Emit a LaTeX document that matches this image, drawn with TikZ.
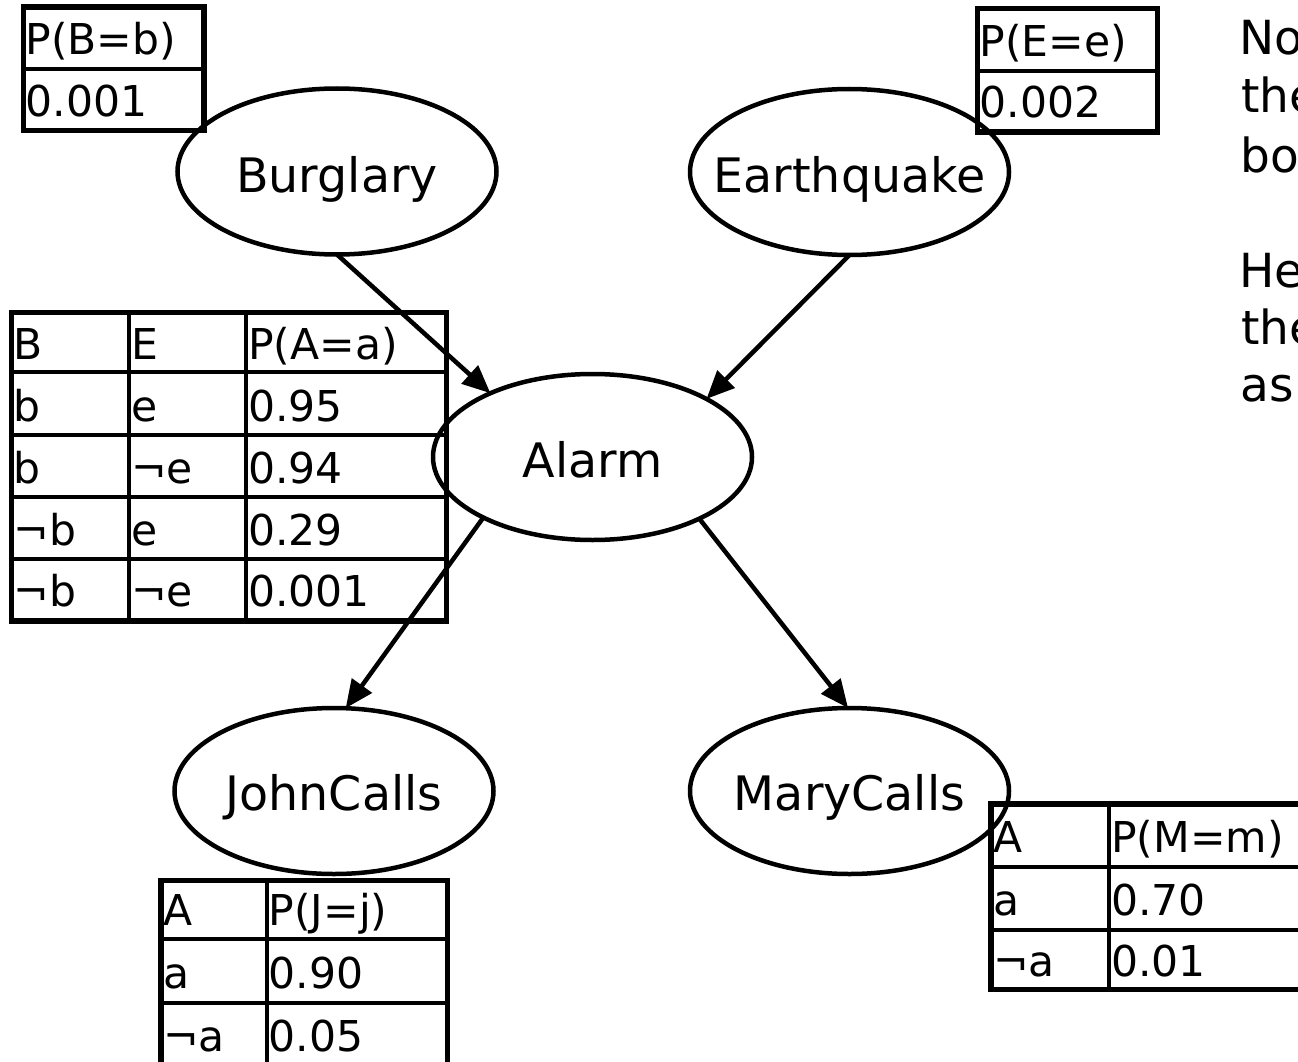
\documentclass[tikz,border=0pt]{standalone}
\usepackage{fontspec}
\setmainfont{DejaVu Sans}
\usetikzlibrary{arrows.meta,shapes.geometric}
\begin{document}
\begin{tikzpicture}[x=1pt,y=-1pt,
  var/.style={draw, ellipse, line width=4.5pt, minimum width=319pt, minimum height=166pt, inner sep=0pt, outer sep=0pt},
  lbl/.style={font=\fontsize{47.5}{57}\selectfont, inner sep=0pt, anchor=base},
  cell/.style={font=\fontsize{42.5}{51}\selectfont, inner sep=0pt, anchor=base west},
  note/.style={font=\fontsize{47}{56}\selectfont, inner sep=0pt, anchor=base west},
  tabouter/.style={line width=5.5pt},
  tabinner/.style={line width=4pt},
  edge/.style={line width=4.5pt, -{Triangle[length=28pt,width=24pt]}}
]
\clip (0,0) rectangle (1298,1062);
\fill[white] (0,0) rectangle (1298,1062);

% variables
\node[var] (burglary) at (337,171.5) {};
\node[var] (earthquake) at (849.5,172) {};
\node[var] (alarm) at (592.5,457) {};
\node[var] (john) at (334,791) {};
\node[var] (mary) at (849.5,791) {};
\node[lbl] (burglarytxt) at ([yshift=-20.5pt]burglary.center) {Burglary};
\node[lbl] (earthquaketxt) at ([yshift=-20.5pt]earthquake.center) {Earthquake};
\node[lbl] (alarmtxt) at ([yshift=-20.5pt]alarm.center) {Alarm};
\node[lbl] (johntxt) at ([yshift=-19.5pt]john.center) {JohnCalls};
\node[lbl] (marytxt) at ([yshift=-19.5pt]mary.center) {MaryCalls};

% edges
\draw[edge] (burglary.south) -- (alarm.148.8);
\draw[edge] (earthquake.south) -- (alarm.27.6);
\draw[edge] (alarm.-151) -- (john.82);
\draw[edge] (alarm.-30) -- (mary.91);

% P(B=b)
\draw[tabinner] (23.3,69.3) -- (204,69.3);
\draw[tabouter] (23.3,7) rectangle (204,130.5);
\node[cell] (bh) at (25.3,55) {P(B=b)};
\node[cell] (bv) at (25.3,117) {0.001};

% P(E=e)
\draw[tabinner] (977.5,71) -- (1157.5,71);
\draw[tabouter] (977.5,8.5) rectangle (1157.5,132);
\node[cell] (eh) at (979.5,57) {P(E=e)};
\node[cell] (ev) at (979.5,118) {0.002};

% P(A=a)
\foreach \yy in {372,434.5,497,559} \draw[tabinner] (11.7,\yy) -- (446.7,\yy);
\foreach \xx in {129,246} \draw[tabinner] (\xx,312.5) -- (\xx,621);
\draw[tabouter] (11.7,312.5) rectangle (446.7,621);
\node[cell] (a11) at (13.7,359.5) {B};
\node[cell] (a12) at (131,359.5) {E};
\node[cell] (a13) at (248,359.5) {P(A=a)};
\node[cell] (a21) at (13.7,421.5) {b};
\node[cell] (a22) at (131,421.5) {e};
\node[cell] (a23) at (248,421.5) {0.95};
\node[cell] (a31) at (13.7,483.5) {b};
\node[cell] (a32) at (131,483.5) {¬e};
\node[cell] (a33) at (248,483.5) {0.94};
\node[cell] (a41) at (13.7,545.5) {¬b};
\node[cell] (a42) at (131,545.5) {e};
\node[cell] (a43) at (248,545.5) {0.29};
\node[cell] (a51) at (13.7,606.5) {¬b};
\node[cell] (a52) at (131,606.5) {¬e};
\node[cell] (a53) at (248,606.5) {0.001};

% P(J=j)
\foreach \yy in {939.3,1003.3} \draw[tabinner] (161,\yy) -- (447.5,\yy);
\draw[tabinner] (266.5,880.5) -- (266.5,1067);
\draw[tabouter] (161,880.5) rectangle (447.5,1067);
\node[cell] (j11) at (163,925) {A};
\node[cell] (j12) at (268.5,925) {P(J=j)};
\node[cell] (j21) at (163,988) {a};
\node[cell] (j22) at (268.5,988) {0.90};
\node[cell] (j31) at (163,1051) {¬a};
\node[cell] (j32) at (268.5,1051) {0.05};

% P(M=m)
\foreach \yy in {866.5,930} \draw[tabinner] (991,\yy) -- (1320,\yy);
\draw[tabinner] (1109,804) -- (1109,989.5);
\draw[tabouter] (991,804) rectangle (1320,989.5);
\node[cell] (m11) at (993,852) {A};
\node[cell] (m12) at (1111,852) {P(M=m)};
\node[cell] (m21) at (993,915.5) {a};
\node[cell] (m22) at (1111,915.5) {0.70};
\node[cell] (m31) at (993,976) {¬a};
\node[cell] (m32) at (1111,976) {0.01};

% side text (cut by the right edge, as in the reference)
\node[note] (n1) at (1239,55) {No};
\node[note] (n2) at (1241,113) {the};
\node[note] (n3) at (1240,172) {bo};
\node[note] (n4) at (1239,287) {He};
\node[note] (n5) at (1241,344) {the};
\node[note] (n6) at (1240,401) {as};
\end{tikzpicture}
\end{document}
